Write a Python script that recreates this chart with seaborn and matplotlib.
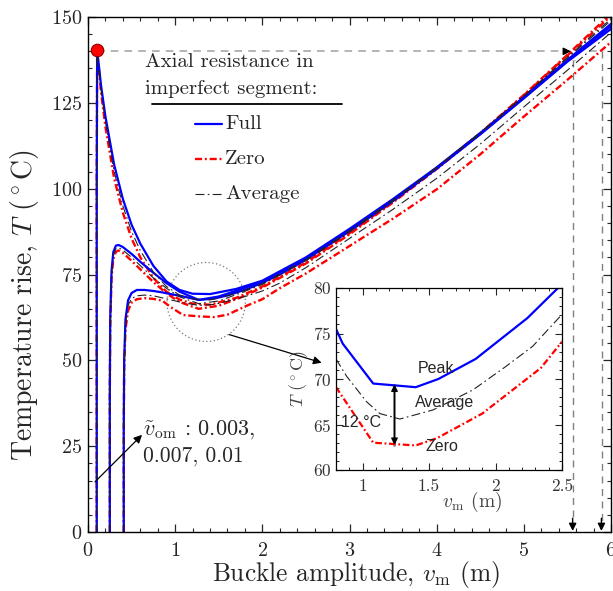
import numpy as np
import pandas as pd
import matplotlib
matplotlib.use("Agg")
import matplotlib.pyplot as plt
import seaborn as sns
from matplotlib.patches import Ellipse
from matplotlib.ticker import MultipleLocator

# ---------------- data ----------------
# family 1 (imperfection 0.003)
f1_x = [0.10, 0.10, 0.105, 0.12, 0.15, 0.2, 0.3, 0.4, 0.5, 0.6, 0.75, 0.9, 1.05, 1.2, 1.4, 1.7,
        2.0, 2.5, 3.0, 3.5, 4.0, 4.5, 5.0, 5.5, 6.0]
full1_T = [0, 100, 140, 137, 130, 121, 107, 97, 89.5, 84, 77.5, 73, 70.5, 69.4, 69.3, 70.8,
           73.2, 80, 88.3, 97, 106.2, 116.2, 126.7, 137.5, 148]
zero1_T = [0, 100, 140, 136, 128, 118, 103, 93, 85.5, 80, 74, 70, 67.7, 66.5, 66.2, 68.2,
           71.5, 78.5, 87, 96.3, 106, 116.2, 127.3, 139, 151]
avg1_T = [0, 100, 140, 136.5, 129, 119.5, 105, 95, 87.5, 82, 75.7, 71.5, 69, 67.9, 67.6, 69.5,
          72.3, 79.3, 87.8, 96.7, 106.2, 116.3, 127, 138.3, 149.5]

# family 2 (imperfection 0.007)
f2_x = [0.25, 0.25, 0.255, 0.27, 0.29, 0.32, 0.35, 0.4, 0.5, 0.6, 0.75, 0.9, 1.05, 1.27, 1.5,
        1.75, 2.0, 2.5, 3.0, 3.5, 4.0, 4.5, 5.0, 5.5, 6.0]
full2_T = [0, 40, 62, 76, 81.5, 83.4, 83.6, 83, 81, 78.7, 75.5, 72.5, 70, 67.6, 68.6, 70.7,
           72.9, 79.6, 88, 96.7, 106, 116, 126.5, 137.2, 147.3]
zero2_T = [0, 40, 60, 74, 79.5, 81.6, 82, 81.3, 79, 76.5, 72.8, 69.5, 67, 65, 65.9, 68.3,
           71.2, 78.2, 86.7, 96, 105.7, 116, 127.2, 138.8, 150.3]
avg2_T = [0, 40, 61, 75, 80.5, 82.5, 82.8, 82.1, 80, 77.6, 74, 71, 68.5, 66.5, 67.3, 69.6,
          72.1, 79, 87.4, 96.4, 106, 116.1, 126.9, 138, 149]

# family 3 (imperfection 0.01)
f3_x = [0.41, 0.41, 0.415, 0.43, 0.46, 0.5, 0.56, 0.65, 0.75, 0.85, 0.95, 1.09, 1.27, 1.45,
        1.6, 1.83, 2.0, 2.2, 2.5, 3.0, 3.5, 4.0, 4.5, 5.0, 5.5, 6.0]
full3_T = [0, 30, 50, 62, 67.5, 69.6, 70.5, 70.5, 70.2, 69.8, 69.3, 68.6, 67.6, 68, 68.9, 70.8,
           72.6, 75, 79.3, 87.6, 96.4, 105.8, 115.8, 126.3, 137, 146.5]
avg3_T = [0, 30, 49, 60.5, 66, 68, 68.8, 69, 68.8, 68.2, 67.6, 66.8, 66, 66.3, 67.2, 68.8,
          70.2, 72.5, 77, 85.5, 94, 103, 113, 123.8, 134.5, 145.5]
zero3_T = [0, 30, 48, 59, 64.5, 66.8, 67.8, 68.1, 67.9, 67.4, 65.5, 63.2, 62.8, 62.6, 63.3, 66,
           67.8, 71, 75.3, 83.3, 91.3, 99.8, 110, 121, 131.7, 142.7]

# inset curves
inset_full_x = [0.80, 0.85, 1.08, 1.40, 1.57, 1.85, 2.24, 2.47]
inset_full_T = [75.5, 73.9, 69.5, 69.1, 70.0, 72.2, 76.7, 80.0]
inset_avg_x = [0.80, 0.88, 1.03, 1.13, 1.28, 1.53, 1.83, 2.08, 2.28, 2.50]
inset_avg_T = [72.2, 70.3, 67.5, 66.2, 65.6, 66.6, 68.8, 71.4, 73.6, 77.1]
inset_zero_x = [0.80, 1.08, 1.40, 1.56, 1.90, 2.34, 2.50]
inset_zero_T = [69.1, 63.0, 62.7, 63.5, 66.2, 71.2, 74.1]

legend_labels = ["Full", "Zero", "Average"]
x_ticks = [0, 1, 2, 3, 4, 5, 6]
y_ticks = [0, 25, 50, 75, 100, 125, 150]
inset_xticks = [1, 1.5, 2, 2.5]
inset_xticklabels = ["1", "1.5", "2", "2.5"]
inset_yticks = [60, 65, 70, 75, 80]

# ---------------- style ----------------
sns.set_style("ticks")
plt.rcParams["font.family"] = ["cmr10", "DejaVu Serif"]
plt.rcParams["mathtext.fontset"] = "cm"
plt.rcParams["axes.formatter.use_mathtext"] = True
plt.rcParams["axes.unicode_minus"] = False

BLUE = "#0000ff"
RED = "#ff0000"
styles = {
    "Full": dict(color=BLUE, lw=1.6, linestyle="-"),
    "Zero": dict(color=RED, lw=1.7, linestyle=(0, (3.0, 1.2, 0.8, 1.2))),
    "Average": dict(color="#222222", lw=0.8, linestyle=(0, (8, 3, 1.5, 3))),
}

fig = plt.figure(figsize=(6.13, 5.91), dpi=100)
ax = fig.add_axes([88 / 613, (591 - 532) / 591, 523 / 613, 515 / 591])

curves = [
    ("Zero", f1_x, zero1_T), ("Zero", f2_x, zero2_T), ("Zero", f3_x, zero3_T),
    ("Full", f1_x, full1_T), ("Full", f2_x, full2_T), ("Full", f3_x, full3_T),
    ("Average", f1_x, avg1_T), ("Average", f2_x, avg2_T), ("Average", f3_x, avg3_T),
]
for model, xs, ts in curves:
    sns.lineplot(x=xs, y=ts, ax=ax, sort=False, estimator=None, **styles[model])

ax.set_xlim(0, 6)
ax.set_ylim(0, 150)
ax.set_xticks(x_ticks)
ax.set_yticks(y_ticks)
ax.xaxis.set_minor_locator(MultipleLocator(0.2))
ax.yaxis.set_minor_locator(MultipleLocator(5))
ax.tick_params(which="both", direction="in", top=True, right=True, labelsize=14.5)
ax.tick_params(which="major", length=6, width=0.9)
ax.tick_params(which="minor", length=3, width=0.8)
ax.tick_params(axis="x", pad=7)
ax.tick_params(axis="y", pad=4)
for s in ax.spines.values():
    s.set_linewidth(1.0)
    s.set_color("black")
ax.set_xlabel(r"Buckle amplitude, $v_\mathrm{m}$ (m)", fontsize=18.3)
ax.set_ylabel(r"Temperature rise, $T$ $(^\circ\mathrm{C})$", fontsize=20)
ax.xaxis.set_label_coords(0.513, -0.052)
ax.yaxis.set_label_coords(-0.09, 0.44)

# peak marker and dashed guide lines
ax.plot([0.1, 5.52], [140, 140], color="#a0a0a0", lw=1.1, dashes=(5, 4), zorder=1)
ax.plot([5.56, 5.56], [137.5, 2], color="#808080", lw=1.0, dashes=(5, 4), zorder=1)
ax.plot([5.55, 5.59], [137.5, 137.5], color="#c0c0c0", lw=0.8, zorder=1)
ax.plot([5.90, 5.90], [140, 2], color="#808080", lw=1.0, dashes=(5, 4), zorder=1)
ax.plot([5.75, 5.90], [140, 140], color="#a0a0a0", lw=1.1, dashes=(5, 4), zorder=1)
for (x0, y0, x1, y1) in [(5.46, 140, 5.54, 140), (5.56, 4, 5.56, 0.3), (5.89, 4, 5.89, 0.3)]:
    ax.annotate("", xy=(x1, y1), xytext=(x0, y0),
                arrowprops=dict(arrowstyle="-|>", color="black", lw=1.0,
                                mutation_scale=11, shrinkA=0, shrinkB=0))
ax.plot([0.1], [140.5], marker="o", ms=9, mfc=RED, mec="#8b0000", mew=0.8, zorder=6,
        clip_on=False)

# dotted circle and arrow to inset
ax.add_patch(Ellipse((1.356, 67), 0.9, 23, fill=False, ls=(0, (1, 2)), ec="#777777", lw=0.9))
ax.annotate("", xy=(2.68, 49.3), xytext=(1.62, 57.5),
            arrowprops=dict(arrowstyle="-|>", color="black", lw=0.9, mutation_scale=12,
                            shrinkA=0, shrinkB=0))

# imperfection annotation
ax.annotate("", xy=(0.62, 28.3), xytext=(0.08, 14.6),
            arrowprops=dict(arrowstyle="-|>", color="black", lw=0.9, mutation_scale=12,
                            shrinkA=0, shrinkB=0))
ax.text(0.635, 29.7, r"$\tilde{v}_\mathrm{om}$ : 0.003,", fontsize=16, va="center", ha="left")
ax.text(0.635, 22.0, "0.007, 0.01", fontsize=15.5, va="center", ha="left")

# legend (manual)
def fx(px):
    return (px - 88) / 523

def fy(py):
    return (532 - py) / 515

ax.text(fx(145), fy(62), "Axial resistance in", transform=ax.transAxes, fontsize=15,
        va="center", ha="left")
ax.text(fx(145), fy(89), "imperfect segment:", transform=ax.transAxes, fontsize=15,
        va="center", ha="left")
ax.plot([fx(152), fx(342)], [fy(104), fy(104)], transform=ax.transAxes, color="black",
        lw=1.3, clip_on=False)
for lab, py in zip(legend_labels, [124, 159, 194]):
    st = styles[lab]
    ax.plot([fx(195), fx(222)], [fy(py), fy(py)], transform=ax.transAxes, color=st["color"],
            lw=st["lw"], linestyle=st["linestyle"])
    ax.text(fx(225), fy(py), lab, transform=ax.transAxes, fontsize=15, va="center",
            ha="left")

# ---------------- inset ----------------
axi = fig.add_axes([336 / 613, (591 - 470) / 591, 226 / 613, 182 / 591])
sns.lineplot(x=inset_avg_x, y=inset_avg_T, ax=axi, sort=False, estimator=None,
             color="#222222", lw=0.8, linestyle=(0, (8, 3, 1.5, 3)))
sns.lineplot(x=inset_zero_x, y=inset_zero_T, ax=axi, sort=False, estimator=None,
             color=RED, lw=1.6, linestyle=(0, (3.0, 1.2, 0.8, 1.2)))
sns.lineplot(x=inset_full_x, y=inset_full_T, ax=axi, sort=False, estimator=None,
             color=BLUE, lw=1.6)
axi.set_xlim(0.8, 2.5)
axi.set_ylim(60, 80)
axi.set_xticks(inset_xticks)
axi.set_xticklabels(inset_xticklabels)
axi.set_yticks(inset_yticks)
axi.xaxis.set_minor_locator(MultipleLocator(0.1))
axi.yaxis.set_minor_locator(MultipleLocator(1))
axi.tick_params(which="both", direction="in", top=True, right=True, labelsize=12.5,
                labelcolor="#333333")
axi.tick_params(which="major", length=5, width=0.8)
axi.tick_params(which="minor", length=2.5, width=0.7)
axi.tick_params(axis="x", pad=6)
axi.tick_params(axis="y", pad=3)
for s in axi.spines.values():
    s.set_linewidth(0.9)
    s.set_color("black")
axi.set_xlabel(r"$v_\mathrm{m}$ (m)", fontsize=14, color="#444444")
axi.set_ylabel(r"$T$ $(^\circ\mathrm{C})$", fontsize=13, color="#444444")
axi.xaxis.set_label_coords(0.6, -0.11)
axi.yaxis.set_label_coords(-0.115, 0.5)

axi.plot([1.24, 1.24], [69.3, 62.8], color="#999999", lw=2.2, zorder=1)
axi.annotate("", xy=(1.24, 62.75), xytext=(1.24, 69.4),
             arrowprops=dict(arrowstyle="<|-|>", color="black", lw=0.9, mutation_scale=10,
                             shrinkA=0, shrinkB=0))
sans = ["Liberation Sans", "DejaVu Sans"]
axi.text(1.55, 71.2, "Peak", fontsize=11.5, ha="center", va="center", family=sans)
axi.text(1.62, 67.4, "Average", fontsize=11.5, ha="center", va="center", family=sans)
axi.text(1.6, 62.6, "Zero", fontsize=11.5, ha="center", va="center", family=sans)
axi.text(0.84, 65.2, "12 °C", fontsize=11.5, ha="left", va="center", family=sans)

fig.savefig("out.png", dpi=100)
